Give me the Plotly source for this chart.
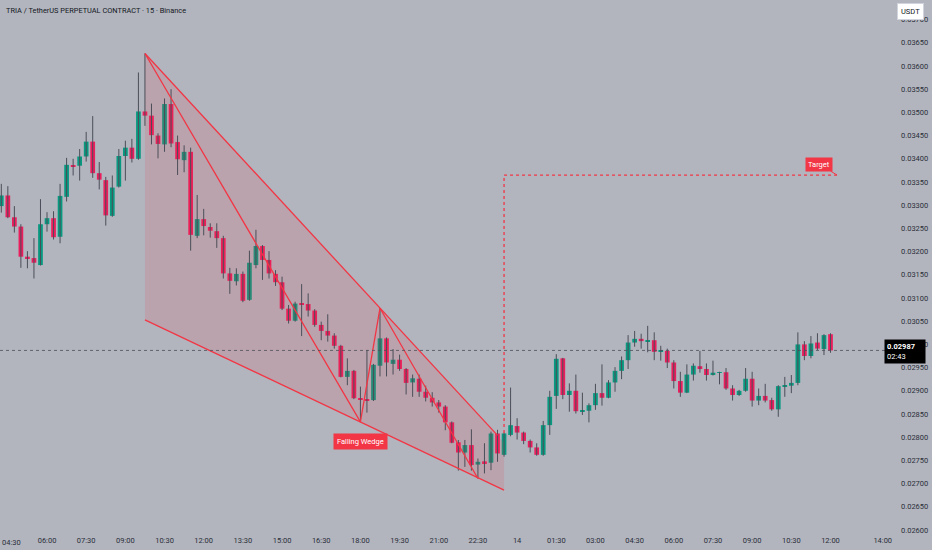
import plotly.graph_objects as go

# 15m bars, index 0 = 06:00 on the 13th (bar -7 = 04:15)
bar_idx = list(range(-7, 121))

opens = [
    0.03298, 0.03321, 0.03274, 0.03254, 0.03189, 0.03186, 0.03171,
    0.03259, 0.03272, 0.03232, 0.03318, 0.03386, 0.03385, 0.03405, 0.03437, 0.03369, 0.03354,
    0.03277, 0.03340, 0.03406, 0.03424, 0.03400, 0.03502, 0.03493, 0.03450, 0.03431, 0.03518,
    0.03436, 0.03397, 0.03415, 0.03234, 0.03270, 0.03253, 0.03244, 0.03229, 0.03153, 0.03136,
    0.03152, 0.03096, 0.03171, 0.03212, 0.03182, 0.03152, 0.03134, 0.03077, 0.03051, 0.03088,
    0.03087, 0.03073, 0.03042, 0.03029, 0.03019, 0.02997, 0.02930, 0.02943, 0.02884, 0.02882,
    0.02880, 0.02954, 0.03013, 0.02958, 0.02967, 0.02947, 0.02918, 0.02926, 0.02898, 0.02885,
    0.02875, 0.02866, 0.02832, 0.02789, 0.02767, 0.02783, 0.02741, 0.02748, 0.02745, 0.02808,
    0.02762, 0.02805, 0.02824, 0.02810, 0.02792, 0.02778, 0.02762, 0.02826, 0.02889, 0.02970,
    0.02891, 0.02900, 0.02856, 0.02857, 0.02869, 0.02895, 0.02885, 0.02918, 0.02943, 0.02966,
    0.03004, 0.03012, 0.03007, 0.03009, 0.02984, 0.02986, 0.02961, 0.02921, 0.02896, 0.02935,
    0.02953, 0.02947, 0.02934, 0.02939, 0.02940, 0.02905, 0.02891, 0.02900, 0.02926, 0.02879,
    0.02889, 0.02880, 0.02860, 0.02910, 0.02911, 0.02917, 0.03000, 0.02975, 0.03004, 0.02990,
    0.03022,
]
highs = [
    0.03346, 0.03341, 0.03298, 0.03259, 0.03201, 0.03229, 0.03313,
    0.03285, 0.03287, 0.03346, 0.03402, 0.03400, 0.03421, 0.03458, 0.03492, 0.03393, 0.03361,
    0.03364, 0.03421, 0.03439, 0.03443, 0.03586, 0.03627, 0.03519, 0.03455, 0.03530, 0.03550,
    0.03450, 0.03429, 0.03424, 0.03322, 0.03292, 0.03261, 0.03261, 0.03234, 0.03165, 0.03164,
    0.03157, 0.03202, 0.03247, 0.03214, 0.03201, 0.03160, 0.03146, 0.03085, 0.03092, 0.03130,
    0.03110, 0.03076, 0.03049, 0.03065, 0.03024, 0.02999, 0.02970, 0.02945, 0.02909, 0.02988,
    0.02958, 0.03078, 0.03015, 0.02990, 0.02978, 0.02949, 0.02935, 0.02935, 0.02911, 0.02897,
    0.02880, 0.02869, 0.02834, 0.02794, 0.02794, 0.02817, 0.02754, 0.02787, 0.02812, 0.02816,
    0.02810, 0.02907, 0.02841, 0.02812, 0.02795, 0.02787, 0.02835, 0.02900, 0.02979, 0.02971,
    0.02916, 0.02935, 0.02896, 0.02873, 0.02915, 0.02957, 0.02923, 0.02951, 0.02974, 0.03020,
    0.03029, 0.03023, 0.03040, 0.03026, 0.02997, 0.02991, 0.02966, 0.02941, 0.02957, 0.02959,
    0.02986, 0.02959, 0.02965, 0.02941, 0.02949, 0.02912, 0.02902, 0.02949, 0.02941, 0.02905,
    0.02915, 0.02885, 0.02912, 0.02930, 0.02934, 0.03026, 0.03007, 0.03018, 0.03024, 0.03022,
    0.03024,
]
lows = [
    0.03284, 0.03272, 0.03241, 0.03165, 0.03164, 0.03142, 0.03170,
    0.03243, 0.03226, 0.03218, 0.03308, 0.03364, 0.03353, 0.03394, 0.03359, 0.03334, 0.03256,
    0.03275, 0.03338, 0.03353, 0.03392, 0.03398, 0.03471, 0.03431, 0.03401, 0.03415, 0.03425,
    0.03365, 0.03371, 0.03202, 0.03229, 0.03235, 0.03230, 0.03208, 0.03142, 0.03109, 0.03127,
    0.03091, 0.03094, 0.03164, 0.03139, 0.03142, 0.03126, 0.03074, 0.03045, 0.03049, 0.03018,
    0.03060, 0.03038, 0.03009, 0.03006, 0.02991, 0.02929, 0.02912, 0.02882, 0.02833, 0.02853,
    0.02878, 0.02931, 0.02931, 0.02935, 0.02943, 0.02892, 0.02887, 0.02887, 0.02877, 0.02866,
    0.02853, 0.02815, 0.02787, 0.02728, 0.02736, 0.02728, 0.02711, 0.02722, 0.02729, 0.02747,
    0.02758, 0.02802, 0.02795, 0.02785, 0.02767, 0.02760, 0.02760, 0.02805, 0.02861, 0.02882,
    0.02855, 0.02851, 0.02848, 0.02832, 0.02859, 0.02868, 0.02884, 0.02898, 0.02925, 0.02947,
    0.02995, 0.02991, 0.02983, 0.02966, 0.02965, 0.02949, 0.02905, 0.02887, 0.02895, 0.02922,
    0.02939, 0.02922, 0.02933, 0.02914, 0.02902, 0.02879, 0.02889, 0.02898, 0.02866, 0.02869,
    0.02875, 0.02857, 0.02844, 0.02887, 0.02895, 0.02912, 0.02966, 0.02970, 0.02988, 0.02977,
    0.02982,
]
closes = [
    0.03321, 0.03274, 0.03254, 0.03189, 0.03185, 0.03176, 0.03259,
    0.03272, 0.03231, 0.03320, 0.03387, 0.03384, 0.03405, 0.03437, 0.03369, 0.03355, 0.03278,
    0.03338, 0.03406, 0.03424, 0.03400, 0.03502, 0.03493, 0.03451, 0.03432, 0.03518, 0.03433,
    0.03399, 0.03415, 0.03236, 0.03270, 0.03255, 0.03245, 0.03229, 0.03153, 0.03137, 0.03152,
    0.03094, 0.03176, 0.03212, 0.03182, 0.03153, 0.03134, 0.03077, 0.03051, 0.03088, 0.03086,
    0.03073, 0.03042, 0.03029, 0.03019, 0.02997, 0.02930, 0.02943, 0.02884, 0.02882, 0.02880,
    0.02956, 0.03013, 0.02961, 0.02967, 0.02947, 0.02917, 0.02927, 0.02898, 0.02885, 0.02875,
    0.02866, 0.02832, 0.02788, 0.02767, 0.02783, 0.02740, 0.02747, 0.02744, 0.02808, 0.02765,
    0.02808, 0.02826, 0.02810, 0.02792, 0.02778, 0.02762, 0.02826, 0.02887, 0.02969, 0.02891,
    0.02900, 0.02856, 0.02858, 0.02869, 0.02895, 0.02885, 0.02918, 0.02943, 0.02966, 0.03004,
    0.03012, 0.03007, 0.03009, 0.02984, 0.02986, 0.02961, 0.02921, 0.02896, 0.02935, 0.02954,
    0.02947, 0.02934, 0.02939, 0.02940, 0.02905, 0.02891, 0.02900, 0.02926, 0.02879, 0.02889,
    0.02879, 0.02860, 0.02910, 0.02912, 0.02917, 0.03000, 0.02975, 0.03002, 0.02991, 0.03020,
    0.02987,
]

tick_idx = [-6, 0, 6, 12, 18, 24, 30, 36, 42, 48, 54, 60, 66, 72, 78, 84, 90, 96, 102, 108, 114, 120, 128]
tick_text = ["04:30", "06:00", "07:30", "09:00", "10:30", "12:00", "13:30", "15:00", "16:30", "18:00",
             "19:30", "21:00", "22:30", "14", "01:30", "03:00", "04:30", "06:00", "07:30", "09:00",
             "10:30", "12:00", "14:00"]

# wedge drawing anchors (bar index, price)
wedge_upper_x = [15, 69]
wedge_upper_y = [0.03627, 0.02804]
wedge_lower_x = [15, 70]
wedge_lower_y = [0.03053, 0.02686]
wedge_fill_x = [15, 70, 70, 15]
wedge_fill_y = [0.03627, 0.02788, 0.02686, 0.03053]
zigzag_x = [15, 48, 51, 66]
zigzag_y = [0.03627, 0.02833, 0.03078, 0.02711]

target_x = [70, 70, 121]
target_y = [0.02809, 0.03365, 0.03365]
last_price = 0.02987

BG = "#b2b5be"
UP = "#089981"
DOWN = "#eb1d5d"
DRAW = "#f23645"
TXT = "#131722"

fig = go.Figure()

# wedge shading under the candles
fig.add_trace(go.Scatter(x=wedge_fill_x, y=wedge_fill_y, fill="toself", mode="lines",
                         line=dict(width=0), fillcolor="rgba(242,54,69,0.14)", hoverinfo="skip"))

# wicks
wx, wy = [], []
for i, h, l in zip(bar_idx, highs, lows):
    wx += [i, i, None]
    wy += [l, h, None]
fig.add_trace(go.Scatter(x=wx, y=wy, mode="lines", line=dict(color="#4b4e58", width=1), hoverinfo="skip"))

# bodies
base = [min(o, c) for o, c in zip(opens, closes)]
height = [max(abs(c - o), 0.000012) for o, c in zip(opens, closes)]
colors = [UP if c >= o else DOWN for o, c in zip(opens, closes)]
fig.add_trace(go.Bar(x=bar_idx, y=height, base=base, width=0.72,
                     marker=dict(color=colors, line=dict(width=0))))

# wedge lines
for xs, ys in [(wedge_upper_x, wedge_upper_y), (wedge_lower_x, wedge_lower_y), (zigzag_x, zigzag_y)]:
    fig.add_trace(go.Scatter(x=xs, y=ys, mode="lines", line=dict(color=DRAW, width=1.3), hoverinfo="skip"))

# target projection
fig.add_trace(go.Scatter(x=target_x, y=target_y, mode="lines",
                         line=dict(color=DRAW, width=1.3, dash="dot"), hoverinfo="skip"))

# last price line
fig.add_hline(y=last_price, line=dict(color="#4b4e58", width=0.8, dash="dot"))

fig.add_annotation(x=48, y=0.027918, text="Falling Wedge", showarrow=False,
                   bgcolor=DRAW, font=dict(color="white", size=7.5, family="Roboto"),
                   borderpad=3)
# target callout, tail pointing at the end of the projection
fig.add_annotation(x=target_x[-1], y=target_y[-1], ax=-18, ay=-11, text="Target",
                   showarrow=True, arrowhead=0, arrowwidth=1, arrowcolor=DRAW,
                   bgcolor=DRAW, font=dict(color="white", size=7.5, family="Roboto"),
                   borderpad=2)

fig.add_annotation(xref="paper", yref="paper", x=0.005, y=0.993, xanchor="left", yanchor="top",
                   text="TRIA / TetherUS PERPETUAL CONTRACT · 15 · Binance", showarrow=False,
                   font=dict(color=TXT, size=7.4, family="Roboto"))
fig.add_annotation(xref="paper", yref="paper", x=1.028, y=0.995, xanchor="center", yanchor="top",
                   text="USDT", showarrow=False, bgcolor="white", bordercolor="#d1d4dc",
                   font=dict(color=TXT, size=7.5, family="Roboto"), borderpad=3)
fig.add_annotation(xref="paper", y=last_price, x=1.0, xanchor="left", yanchor="middle",
                   xshift=-2, yshift=-1, text="<b>0.02987</b><br>02:43", showarrow=False, align="left",
                   width=36, bgcolor="#000000", font=dict(color="white", size=7.5, family="Roboto"),
                   borderpad=2)

# first time label sits against the left edge, plotly would drop it as a tick
fig.add_annotation(xref="paper", yref="paper", x=0, y=0, xanchor="left", yanchor="top", yshift=-2,
                   text=tick_text[0], showarrow=False, font=dict(color="#2a2e39", size=7.5, family="Roboto"))

fig.update_layout(
    width=932, height=550,
    margin=dict(l=0, r=46, t=0, b=16),
    paper_bgcolor=BG, plot_bgcolor=BG,
    showlegend=False, barmode="overlay",
    font=dict(family="Roboto", size=7.5, color="#2a2e39"),
    xaxis=dict(range=[-7.2, 128.5], tickmode="array", tickvals=tick_idx[1:], ticktext=tick_text[1:],
               showgrid=False, zeroline=False, showline=False, ticks=""),
    yaxis=dict(side="right", range=[0.025914, 0.037422], dtick=0.0005, tick0=0.026,
               tickformat=".5f", showgrid=False, zeroline=False, showline=False, ticks="",
               ticklabelstandoff=14),
)

# drop the page margin so the chart sits flush in the window
fig.write_html("out.html", config={"displayModeBar": False},
               post_script="document.body.style.margin='0';document.body.style.overflow='hidden';")
